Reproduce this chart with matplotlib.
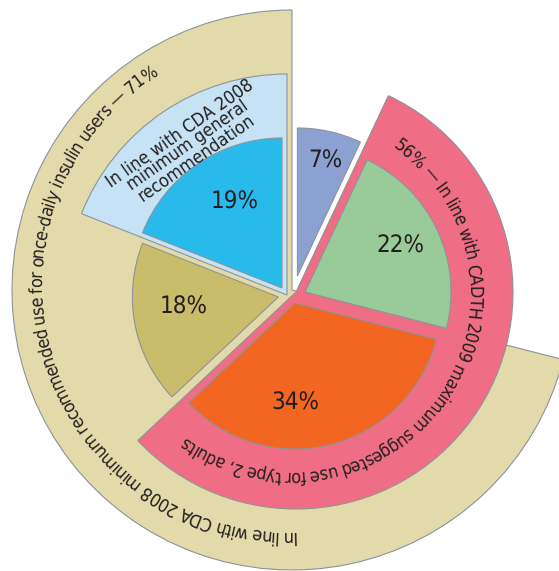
import numpy as np
import matplotlib
matplotlib.use('Agg')
import matplotlib.pyplot as plt
from matplotlib.patches import Wedge
from matplotlib import font_manager, ft2font

# slice shares (%), clockwise from 12 o'clock
slice_labels = ['7%', '22%', '34%', '18%', '19%']
slice_shares = [7, 22, 34, 18, 19]

# bands drawn behind groups of slices (indices into the lists above)
pink_group = [1, 2]        # 22 + 34 = 56%
tan_group = [2, 3, 4]      # 34 + 18 + 19 = 71%
lightblue_group = [4]      # 19%

pink_text = '56% \u2014 In line with CADTH 2009 maximum suggested use for type 2, adults'
tan_text = 'In line with CDA 2008 minimum recommended use for once-daily insulin users \u2014 71%'
lightblue_text = 'In line with CDA 2008\nminimum general\nrecommendation'

# ---- style ----
W, H, DPI = 559, 571, 100
INK = '#231F20'
EDGE = '#8E9398'
slice_colors = ['#8BA1D1', '#98CB98', '#F36621', '#C9BC6A', '#29BAEC']
CX, CY = 293, 277   # pie centre (pixels, y up)
# per-slice apex shift (dx, dy) and radius
slice_shift = [(4.4, 18), (12, 2), (2, -9), (-14.6, -3), (-11, 6)]
slice_radius = [148, 146, 146, 146, 150]
# label placement: polar offset from the slice apex
label_polar = [(118, 76.5), (106, 25.6), (100, -90), (95, 186), (98, 118.7)]
ARC_SIZE = 12.8   # pt

plt.rcParams['text.hinting'] = 'no_hinting'
plt.rcParams['text.hinting_factor'] = 1


def narrow_font():
    # prefer a condensed sans; fall back to Roboto, then the default
    fl = font_manager.fontManager.ttflist

    def regular(f):
        return f.style == 'normal' and f.weight in (400, 'normal', 'regular', 'book')

    for f in fl:
        if f.name == 'Liberation Sans Narrow' and regular(f):
            return f.fname
    for f in fl:
        if f.name == 'DejaVu Sans' and 'condensed' in str(f.stretch) and regular(f):
            return f.fname
    for f in fl:
        if f.name == 'Roboto' and regular(f):
            return f.fname
    return font_manager.findfont('DejaVu Sans')


FONT_PATH = narrow_font()
FP = font_manager.FontProperties(fname=FONT_PATH)


def bounds():
    cum = np.concatenate([[0], np.cumsum(slice_shares)])
    return 90 - 3.6 * cum


def group_angles(idx):
    b = bounds()
    return b[max(idx) + 1], b[min(idx)]


def glyph_metrics(s):
    # advance and left side bearing of every glyph, in em
    font = font_manager.get_font(FONT_PATH)
    font.set_size(100, 72)
    flags = ft2font.LoadFlags.NO_HINTING
    adv, lsb = [], []
    for ch in s:
        g = font.load_char(ord(ch), flags=flags)
        adv.append(g.linearHoriAdvance / 65536 / 100)
        lsb.append(g.horiBearingX / 64 / 100)
    return np.array(adv), np.array(lsb)


def arc_text(ax, s, cx, cy, r, a0, a1, size=ARC_SIZE):
    # letters run clockwise from a0 to a1, tops facing outward;
    # each glyph is anchored at its pen position, spacing stretched to fill the arc
    adv, lsb = glyph_metrics(s)
    em = size * DPI / 72
    span = np.radians(a0 - a1) * r
    track = (span - adv.sum() * em) / len(s)
    pen = (np.cumsum(adv) - adv) * em + track * (np.arange(len(s)) + 0.5)
    for ch, p, a, sb in zip(s, pen, adv * em, lsb * em):
        if ch == ' ':
            continue
        t0 = np.radians(a0) - p / r
        rot = np.degrees(np.radians(a0) - (p + a / 2) / r) - 90
        # Agg shifts the glyph bitmap by its bearing along screen x, not along
        # the rotated baseline; move the anchor so the bearing follows the baseline
        x = cx + r * np.cos(t0) + sb * np.cos(np.radians(rot)) - sb
        y = cy + r * np.sin(t0) + sb * np.sin(np.radians(rot))
        ax.text(x, y, ch, fontproperties=FP, fontsize=size, color=INK,
                rotation=rot, rotation_mode='anchor',
                ha='left', va='baseline', zorder=6)


fig = plt.figure(figsize=(W / DPI, H / DPI), dpi=DPI)
ax = fig.add_axes([0, 0, 1, 1])
ax.set_xlim(0, W)
ax.set_ylim(0, H)
ax.set_aspect('equal')
ax.axis('off')

# background bands
t1, t2 = group_angles(tan_group)
ax.add_patch(Wedge((CX - 1, CY + 4), 280, t1, t2, facecolor='#E2DAAA',
                   edgecolor=EDGE, lw=0.8, zorder=1))
t1, t2 = group_angles(lightblue_group)
ax.add_patch(Wedge((CX - 6, CY - 1), 221, t1, t2, facecolor='#C5E3F5',
                   edgecolor=EDGE, lw=0.8, zorder=2))
t1, t2 = group_angles(pink_group)
ax.add_patch(Wedge((CX + 3, CY + 2), 217, t1, t2, facecolor='#EF6E85',
                   edgecolor=EDGE, lw=0.8, zorder=2))

# slices
b = bounds()
for i, lab in enumerate(slice_labels):
    ox, oy = CX + slice_shift[i][0], CY + slice_shift[i][1]
    ax.add_patch(Wedge((ox, oy), slice_radius[i], b[i + 1], b[i],
                       facecolor=slice_colors[i], edgecolor=EDGE, lw=0.8, zorder=3))
    lr, la = label_polar[i]
    ax.text(ox + lr * np.cos(np.radians(la)), oy + lr * np.sin(np.radians(la)), lab,
            fontproperties=FP, fontsize=17, color=INK, ha='center', va='center', zorder=6)

# curved captions
arc_text(ax, tan_text, 290, H - 284, 247, 272, 122.3)
arc_text(ax, pink_text, 292, H - 293, 178, 55.4, -126)

ax.text(188, H - 146, lightblue_text, fontproperties=FP, fontsize=13, color=INK,
        rotation=35, rotation_mode='anchor', ha='center', va='center',
        multialignment='center', linespacing=0.82, zorder=6)

fig.savefig('out.png', dpi=DPI)
